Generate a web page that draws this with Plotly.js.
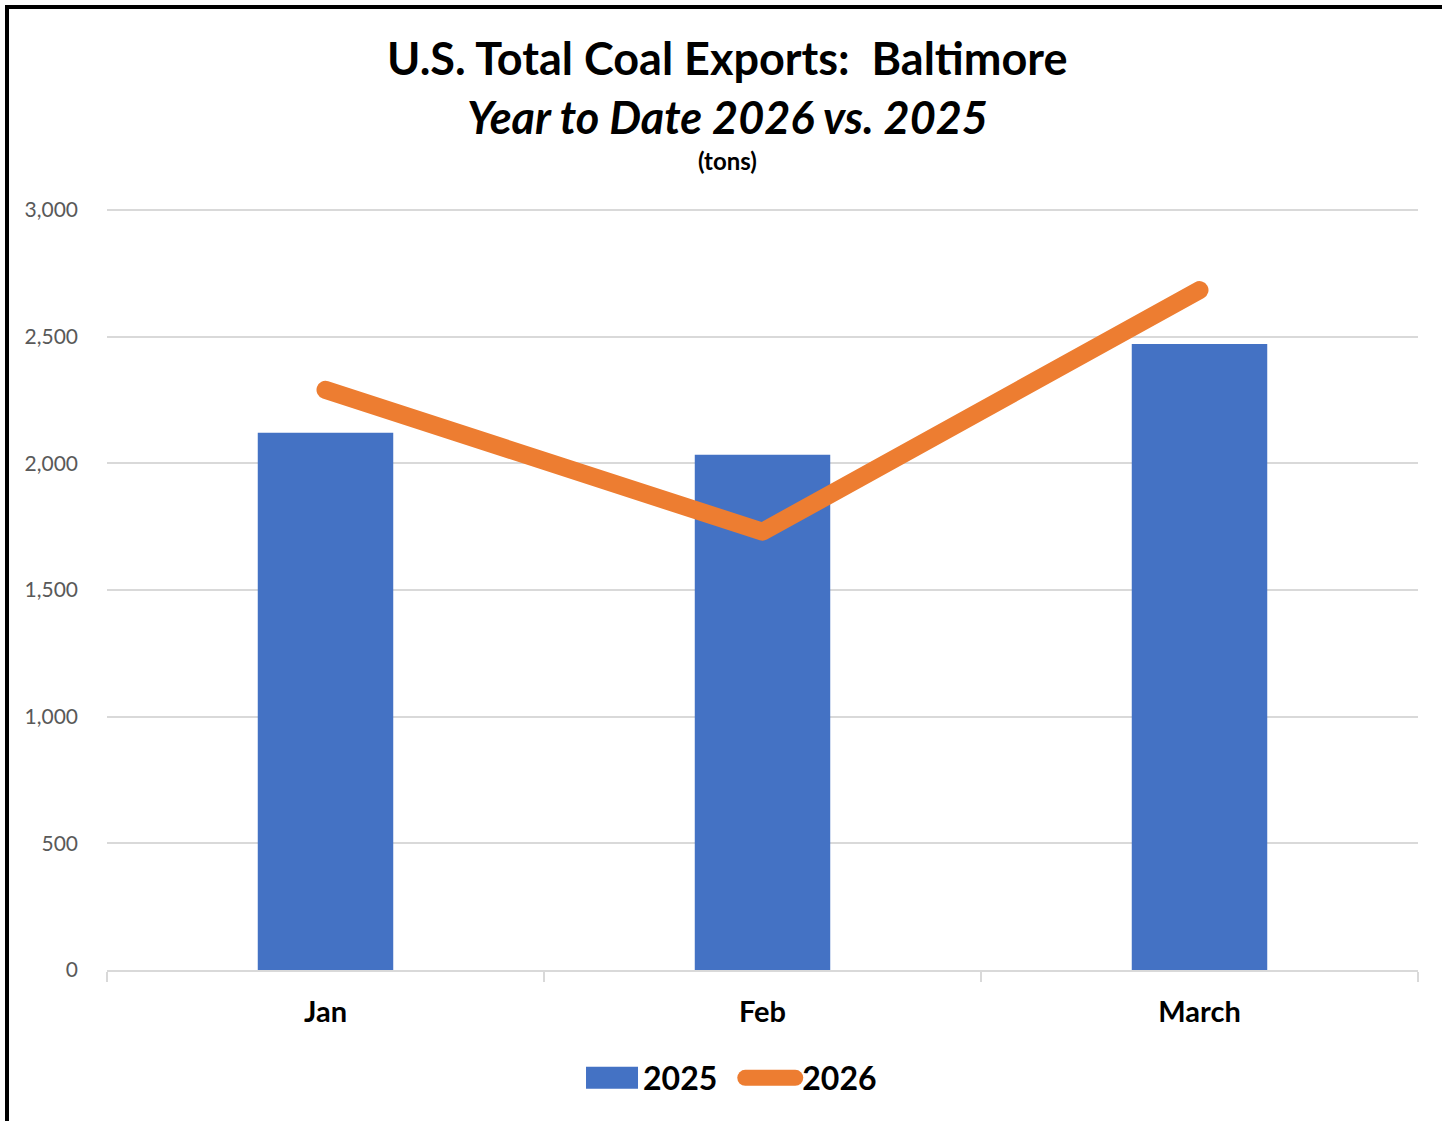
<!DOCTYPE html>
<html>
<head>
<meta charset="utf-8">
<script src="https://cdn.plot.ly/plotly-3.0.1.min.js"></script>
<style>
  html, body { margin: 0; padding: 0; background: #fff; }
  #chart { position: absolute; left: 0; top: 0; width: 1442px; height: 1121px; }
  #frame { position: absolute; left: 5px; top: 5px; width: 1460px; height: 1140px;
           border: 4px solid #000; pointer-events: none; }
  .js-line { stroke-linecap: round !important; stroke-linejoin: round !important; }
</style>
</head>
<body>
<div id="chart"></div>
<div id="frame"></div>
<script>
const months = ["Jan", "Feb", "March"];
const exports2025 = [2121, 2034, 2471];
const exports2026 = [2290, 1730, 2684];
const yTicks = [0, 500, 1000, 1500, 2000, 2500, 3000];

const FONT = "Lato, 'Open Sans', sans-serif";

const traces = [
  {
    type: "bar", name: "2025", x: months, y: exports2025,
    marker: { color: "#4472C4" },
    hoverinfo: "x+y"
  },
  {
    type: "scatter", mode: "lines", name: "2026", x: months, y: exports2026,
    line: { color: "#ED7D31", width: 18 },
    hoverinfo: "x+y"
  }
];

const layout = {
  width: 1442, height: 1121,
  margin: { l: 107, r: 24, t: 209, b: 151, pad: 0 },
  paper_bgcolor: "#fff", plot_bgcolor: "#fff",
  font: { family: FONT, color: "#000" },
  bargap: 0.69,
  showlegend: true,
  legend: {
    orientation: "h", x: 0.4695, xanchor: "center", y: -0.142, yanchor: "middle",
    font: { size: 32, color: "#000", weight: "bold", family: FONT },
    bgcolor: "rgba(0,0,0,0)",
    traceorder: "normal", itemwidth: 60
  },
  xaxis: {
    type: "category",
    showgrid: false, zeroline: false,
    showline: true, linecolor: "#d9d9d9", linewidth: 2,
    ticks: "outside", ticklen: 10, tickcolor: "#d9d9d9", tickwidth: 2,
    tickson: "boundaries",
    tickfont: { size: 29, color: "#000", weight: "bold", family: FONT },
    ticklabelstandoff: 15
  },
  yaxis: {
    range: [0, 3004], tickvals: yTicks, tickformat: ",",
    showgrid: true, gridcolor: "#d9d9d9", gridwidth: 2,
    zeroline: false, showline: false, ticks: "",
    tickfont: { size: 21, color: "#595959", family: FONT },
    ticklabelstandoff: 28
  },
  annotations: [
    { text: "<b>U.S. Total Coal Exports:  Baltimore</b>", xref: "paper", yref: "paper",
      x: 0.4735, y: 1 + (209 - 58) / 761, xanchor: "center", yanchor: "middle",
      showarrow: false, font: { size: 45, color: "#000", family: FONT } },
    { text: "<b><i>Year to Date 2026 vs. 2025</i></b>", xref: "paper", yref: "paper",
      x: 0.4735, y: 1 + (209 - 117) / 761, xanchor: "center", yanchor: "middle",
      showarrow: false, font: { size: 45, color: "#000", family: FONT } },
    { text: "<b>(tons)</b>", xref: "paper", yref: "paper",
      x: 0.4735, y: 1 + (209 - 161) / 761, xanchor: "center", yanchor: "middle",
      showarrow: false, font: { size: 24, color: "#000", family: FONT } }
  ]
};

Plotly.newPlot("chart", traces, layout, { displayModeBar: false, staticPlot: true }).then(gd => {
  gd.querySelectorAll(".legend [clip-path]").forEach(el => el.removeAttribute("clip-path"));
  const items = gd.querySelectorAll(".legend .traces");
  items.forEach((it, i) => {
    if (i === 0) {
      it.querySelectorAll(".legendpoints path").forEach(p => {
        p.setAttribute("d", "M-22,-11H30V11H-22Z");
      });
    } else {
      const tr = it.getAttribute("transform") || "";
      const m = tr.match(/translate\(\s*([-\d.]+)[ ,]+([-\d.]+)\s*\)/);
      if (m) {
        it.setAttribute("transform", "translate(" + (parseFloat(m[1]) + 10) + "," + m[2] + ")");
      }
      it.querySelectorAll(".legendlines path").forEach(p => {
        const d = p.getAttribute("d") || "";
        const nums = d.match(/-?[\d.]+/g);
        if (nums && nums.length >= 3) {
          const x0 = parseFloat(nums[0]), w = parseFloat(nums[2]);
          p.setAttribute("d", "M" + (x0 + 8) + ",0h" + (w - 10));
        }
        p.style.strokeLinecap = "round";
        p.style.strokeWidth = "16px";
      });
    }
  });
});
</script>
</body>
</html>
